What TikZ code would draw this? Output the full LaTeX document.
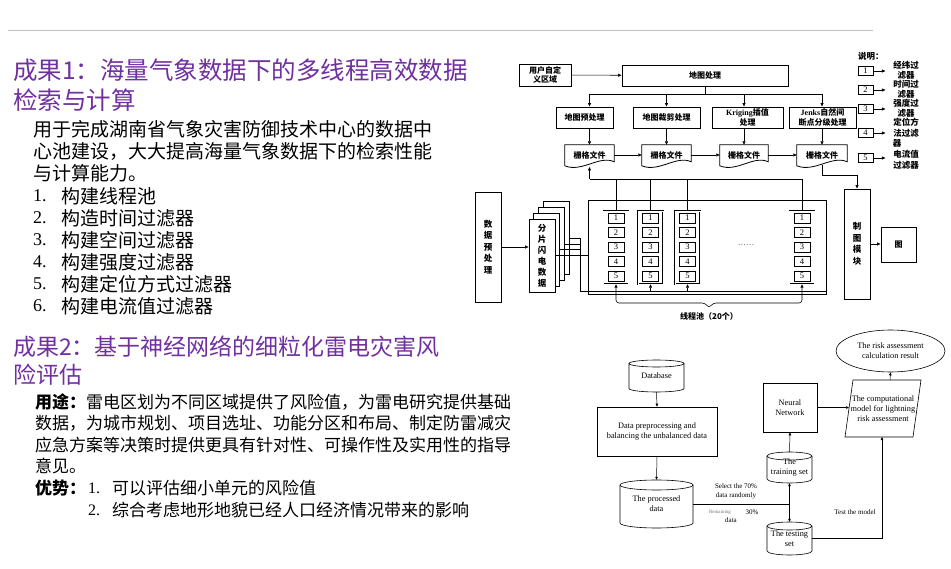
\documentclass[tikz,border=0pt]{standalone}
\usepackage{fontspec}
\setmainfont{Liberation Serif}
\newfontfamily\cjk{Noto Sans CJK SC}
\usetikzlibrary{arrows.meta,shapes.geometric,calc}
\definecolor{ttlc}{RGB}{112,48,160}
\newcommand\gdoc[3]{%
  \node[docn,minimum width=#3] (#1) at (#2,155) {栅格文件};
  \draw[docl] (#1.north west) -- (#1.north east) -- ++(0,17) .. controls +(-0.3*#3,-7) and +(0.35*#3,7) .. ($(#1.north west)+(0,21)$) -- cycle;}
\newcommand\mycyl[7]{%
  \pgfmathsetmacro\cL{#2-#4/2}\pgfmathsetmacro\cR{#2+#4/2}%
  \pgfmathsetmacro\cT{#3-#5/2+#6}\pgfmathsetmacro\cB{#3+#5/2-#6}%
  \pgfmathsetmacro\cRx{#4/2}\pgfmathsetmacro\kx{0.552*#4/2}\pgfmathsetmacro\ky{0.552*#6}\pgfmathsetmacro\cBB{#3+#5/2}%
  \node[bt,minimum width=#4,minimum height=#5] (#1) at (#2,#3) {#7};
  \draw[cl] (\cL,\cT) -- (\cL,\cB) .. controls (\cL,\cB+\ky) and (#2-\kx,\cBB) .. (#2,\cBB) .. controls (#2+\kx,\cBB) and (\cR,\cB+\ky) .. (\cR,\cB) -- (\cR,\cT);
  \draw[cl] (#2,\cT) ellipse[x radius=\cRx,y radius=#6];}
\begin{document}
\begin{tikzpicture}[x=1pt,y=-1pt,
 ttl/.style={anchor=west,inner sep=0pt,text=ttlc},
 body/.style={anchor=west,inner sep=0pt,text=black},
 fc/.style={draw,line width=0.9pt,inner sep=0pt,align=center,font=\cjk\bfseries\fontsize{8}{9.8}\selectfont},
 vt/.style={fc,font=\cjk\bfseries\fontsize{8.5}{11.5}\selectfont},
 docn/.style={inner sep=0pt,minimum height=20,font=\cjk\bfseries\fontsize{8}{9}\selectfont},
 docl/.style={line width=0.8pt},
 ln/.style={line width=0.6pt},
 arr/.style={ln,-{Triangle[length=3.5pt,width=3pt]}},
 colb/.style={draw,double,double distance=0.8pt,line width=0.5pt,minimum width=25,minimum height=73,inner sep=0pt},
 nb/.style={draw,line width=0.9pt,minimum width=16,minimum height=10,inner sep=0pt,font=\fontsize{8.5}{8.5}\selectfont},
 pagebox/.style={draw,fill=white,line width=0.8pt,minimum width=26,minimum height=73,inner sep=0pt},
 lg/.style={inner sep=0pt,font=\cjk\bfseries\fontsize{8.5}{8.5}\selectfont},
 bt/.style={inner sep=0pt,align=center,font=\fontsize{8.3}{10}\selectfont},
 lbl/.style={inner sep=0pt,align=center,font=\fontsize{7}{8.5}\selectfont},
 cl/.style={line width=0.6pt},
 arrs/.style={line width=0.5pt,-{Triangle[length=3pt,width=2.5pt]}}]
\useasboundingbox (0,0) rectangle (951,569);
% ---------- left texts ----------
\draw[line width=0.8pt,black!25] (8,30) -- (873,30);
\node[ttl,font=\cjk\fontsize{24.5}{28}\selectfont] (t1a) at (13,70) {成果1：海量气象数据下的多线程高效数据};
\node[ttl,font=\cjk\fontsize{24.5}{28}\selectfont] (t1b) at (13,100) {检索与计算};
\node[body,font=\cjk\fontsize{19}{22}\selectfont] (p1) at (33,129) {用于完成湖南省气象灾害防御技术中心的数据中};
\node[body,font=\cjk\fontsize{19}{22}\selectfont] (p2) at (33,151) {心池建设，大大提高海量气象数据下的检索性能};
\node[body,font=\cjk\fontsize{19}{22}\selectfont] (p3) at (33,173) {与计算能力。};
\foreach \n/\y/\t in {1/196/构建线程池,2/218/构造时间过滤器,3/240/构建空间过滤器,4/262/构建强度过滤器,5/284/构建定位方式过滤器,6/306/构建电流值过滤器}{
  \node[body,font=\fontsize{18}{20}\selectfont] (n\n) at (33,\y) {\n.};
  \node[body,font=\cjk\fontsize{19}{22}\selectfont] (i\n) at (61,\y) {\t};
}
\node[ttl,font=\cjk\fontsize{23}{26}\selectfont] (t2a) at (13,347) {成果2：基于神经网络的细粒化雷电灾害风};
\node[ttl,font=\cjk\fontsize{23}{26}\selectfont] (t2b) at (13,375) {险评估};
\node[body,font=\cjk\fontsize{17}{20}\selectfont] (q1) at (35,402) {{\bfseries 用途：}雷电区划为不同区域提供了风险值，为雷电研究提供基础};
\node[body,font=\cjk\fontsize{17}{20}\selectfont] (q2) at (35,423) {数据，为城市规划、项目选址、功能分区和布局、制定防雷减灾};
\node[body,font=\cjk\fontsize{17}{20}\selectfont] (q3) at (35,445) {应急方案等决策时提供更具有针对性、可操作性及实用性的指导};
\node[body,font=\cjk\fontsize{17}{20}\selectfont] (q4) at (35,466) {意见。};
\node[body,font=\cjk\bfseries\fontsize{17}{20}\selectfont] (q5) at (35,488) {优势：};
\node[body,font=\fontsize{16}{18}\selectfont] (m1) at (88,488) {1.};
\node[body,font=\cjk\fontsize{17}{20}\selectfont] (r1) at (112,488) {可以评估细小单元的风险值};
\node[body,font=\fontsize{16}{18}\selectfont] (m2) at (88,510) {2.};
\node[body,font=\cjk\fontsize{17}{20}\selectfont] (r2) at (112,510) {综合考虑地形地貌已经人口经济情况带来的影响};
% ---------- top-right flowchart ----------
\node[fc,minimum width=52,minimum height=22] (usr) at (545,75) {用户自定\\义区域};
\node[fc,minimum width=166,minimum height=21] (map) at (705,75.5) {地图处理};
\draw[arr] (usr) -- (map);
\node[fc,minimum width=57,minimum height=21] (b1) at (584.5,117.5) {地图预处理};
\node[fc,minimum width=67,minimum height=21] (b2) at (666.5,117.5) {地图裁剪处理};
\node[fc,minimum width=71,minimum height=21] (b3) at (747.5,117.5) {{\rmfamily\bfseries Kriging}插值\\处理};
\node[fc,minimum width=67,minimum height=21] (b4) at (822.5,117.5) {{\rmfamily\bfseries Jenks}自然间\\断点分级处理};
\gdoc{d1}{589.5}{49}
\gdoc{d2}{666.5}{49}
\gdoc{d3}{744}{48}
\gdoc{d4}{822}{50}
\coordinate (sp) at (705,94);
\draw[ln] (map.south) -- (sp);
\draw[ln] (d1.north |- sp) -- (d4.north |- sp);
\foreach \d/\b in {d1/b1,d2/b2,d3/b3,d4/b4}{
  \draw[arr] (\d.north |- sp) -- (\d.north |- \b.north);
  \draw[arr] (\d.north |- \b.south) -- (\d.north);
}
\draw[arr] (d1.east) -- (d2.west);
\draw[arr] (d2.east) -- (d3.west);
\draw[arr] (d3.east) -- (d4.west);
% thread pool
\node[draw,line width=0.8pt,minimum width=238,minimum height=94,inner sep=0pt] (pool) at (707,247) {};
\foreach \i/\x in {1/616,2/650.5,3/687.5,4/802}{
  \node[colb] (c\i) at (\x,247.5) {};
  \foreach \j/\y in {1/218,2/232.5,3/247,4/261.5,5/276}{
    \node[nb] (c\i-\j) at (\x,\y) {\j};
  }
  \draw[ln] (c\i.north) -- ++(0,-32);
}
\node[inner sep=0pt,font=\fontsize{7}{7}\selectfont] (dots) at (746,245) {.\kern1pt.\kern1pt.\kern1pt.\kern1pt.\kern1pt.};
\coordinate (jn) at (589,179);
\draw[ln] (d1.north |- jn) -- (c4.north |- jn);
\draw[arr] (d1.north |- jn) -- ++(0,-12);
% data preprocessing and stack
\node[vt,minimum width=26,minimum height=110] (pre0) at (488,247) {数\\据\\预\\处\\理};
\node[pagebox] (pg3) at (556,238.4) {};
\node[pagebox] (pg2) at (551.4,244.1) {};
\node[pagebox] (pg1) at (546.7,249.8) {};
\node[pagebox,font=\cjk\bfseries\fontsize{8.5}{11}\selectfont,align=center] (pg0) at (542,255.5) {分\\片\\闪\\电\\数\\据};
\draw[arr] (pre0.east) -- (pre0.east -| pg0.west);
\coordinate (fx) at (580,291);
\draw[ln] (pg3.east) -| (fx) -- (pool.east |- fx);
\draw[ln] (pg2.east) -- (pg2.east -| fx);
\draw[ln] (pg1.east) -- (pg1.east -| fx);
\draw[ln] (pg0.east) -- (pg0.east -| pool.west);
\draw[arr] (c2.south |- fx) -- (c2.south);
\draw[arr] (c3.south |- fx) -- (c3.south);
\draw[ln,{Triangle[length=3.5pt,width=3pt]}-{Triangle[length=3.5pt,width=3pt]},rounded corners=3pt] (c1.south) -- (616,303) -- (705,303) -- (709,308) -- (713,303) -- (802,303) -- (c4.south);
\node[inner sep=0pt,font=\cjk\bfseries\fontsize{8}{9}\selectfont] (tpl) at (709,316) {线程池（20个）};
% mapping module
\node[vt,minimum width=26,minimum height=110] (zt) at (857,244) {制\\图\\模\\块};
\node[fc,minimum width=35,minimum height=35] (tu) at (898.5,244.5) {图};
\draw[arr] (zt.east) -- (zt.east -| tu.west);
\draw[arr] (d4.south) |- ($(zt.north)+(0,-13)$) -- (zt.north);
% legend
\node[lg,anchor=west] (sm) at (858,56) {说明：};
\foreach \k/\y in {1/71,2/90,3/109,4/133,5/158}{
  \node[nb,minimum width=15,minimum height=9] (L\k) at (865.5,\y) {\k};
  \draw[arr] (L\k.east) -- ++(12,0);
}
\foreach \y/\t in {65/经纬过,75/滤器,84/时间过,94/滤器,103/强度过,113/滤器,122/定位方,133/法过滤,154/电流值,165/过滤器}{
  \node[lg] at (906,\y) {\t};
}
\node[lg] (lq) at (897,143) {器};
% ---------- bottom-right flowchart ----------
\mycyl{db}{656.5}{376}{55}{32}{3.5}{Database}
\node[bt,draw,line width=0.6pt,minimum width=120,minimum height=49] (prep) at (657,431.5) {Data preprocessing and\\balancing the unbalanced data};
\mycyl{proc}{656.5}{504}{73}{48}{5}{The processed\\data}
\mycyl{train}{789.5}{467.5}{45}{31}{4}{The\\training set}
\mycyl{test}{789.5}{538.5}{45}{33}{4}{The testing\\set}
\node[bt,draw,line width=0.6pt,minimum width=54,minimum height=49] (nn) at (790,407.5) {Neural\\Network};
\node[bt] (cm) at (883,408.5) {The computational\\model for lightning\\risk assessment};
\draw[cl] (853,380) -- (921,380) -- (913,437) -- (845,437) -- cycle;
\node[bt,draw,line width=0.6pt,ellipse,minimum width=109,minimum height=42] (res) at (890.5,351) {The risk assessment\\calculation result};
\draw[arrs] (db.south) -- (prep.north);
\draw[arrs] (prep.south) -- (proc.north);
\draw[cl] (proc.east) -- (proc.east -| train.south);
\draw[arrs] (proc.east -| train.south) -- (train.south);
\draw[arrs] (proc.east -| train.south) -- (test.north);
\draw[arrs] (train.north) -- (nn.south);
\draw[arrs] (nn.east) -- (849,407.5);
\draw[arrs] (890,380) -- (res.south);
\draw[arrs] (test.east) -- (882,538.5) -- (882,437);
\node[lbl] (l70) at (736,491.5) {Select the 70\%\\data randomly};
\node[inner sep=0pt,font=\fontsize{5}{6}\selectfont,text=black!55] (lrem) at (720,512) {Remaining};
\node[lbl] (l30) at (752,512) {30\%};
\node[lbl] (ldat) at (731,520.5) {data};
\node[lbl] (ltest) at (855,512) {Test the model};
\end{tikzpicture}
\end{document}
